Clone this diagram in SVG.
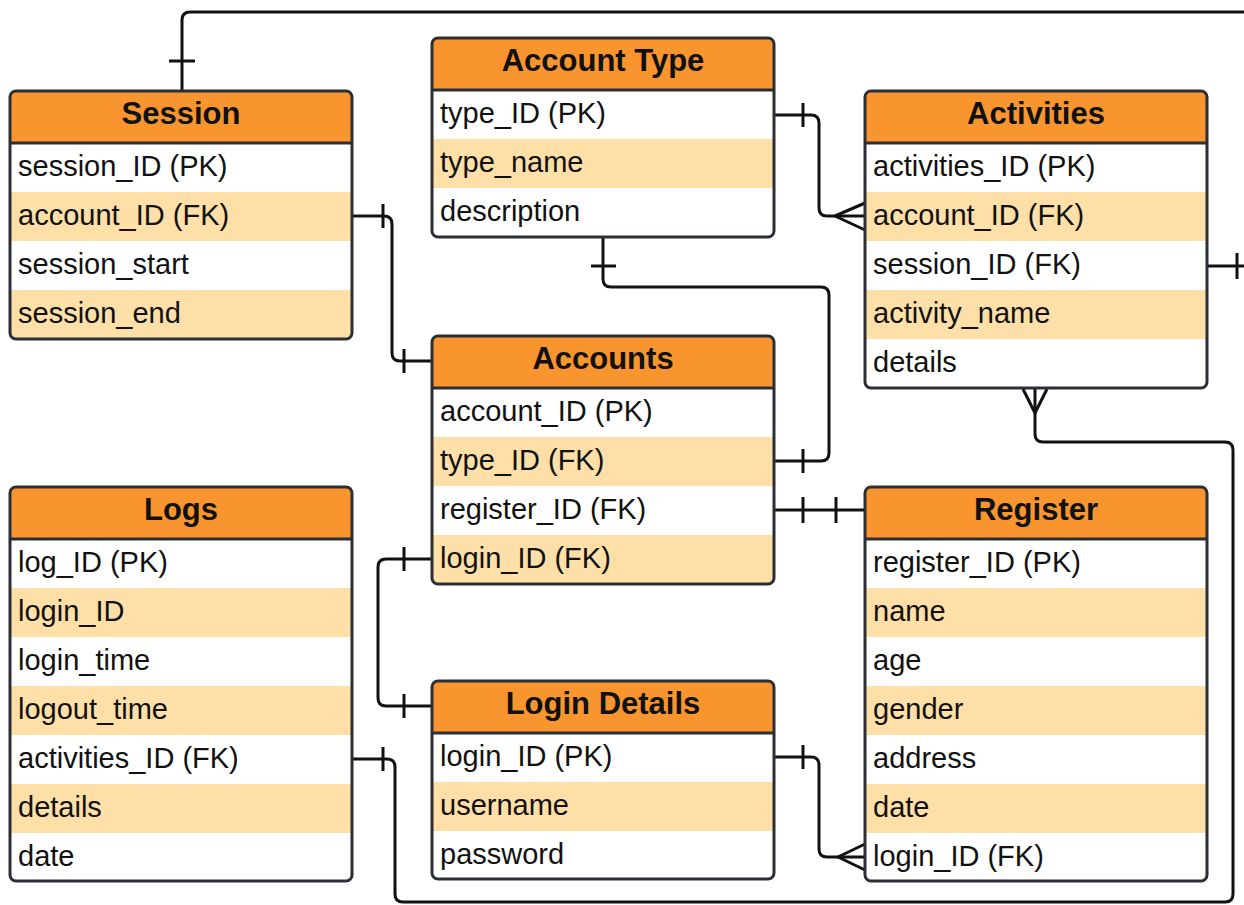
<svg xmlns="http://www.w3.org/2000/svg" width="1244" height="905" viewBox="0 0 1244 905">
<style>
.bg{fill:#ffffff}
.box{fill:none;stroke:#2b2e35;stroke-width:3}
.hdr{fill:#f9952f}
.sep{stroke:#2b2e35;stroke-width:3}
.hl{fill:#ffdfa8}
.title{font-family:"Liberation Sans",Arial,sans-serif;font-weight:bold;font-size:31px;fill:#111;text-anchor:middle}
.fld{font-family:"Liberation Sans",Arial,sans-serif;font-size:29px;fill:#111}
.con{fill:none;stroke:#111;stroke-width:3;stroke-linejoin:round;stroke-linecap:butt}
</style>
<rect width="1244" height="905" fill="#ffffff"/>

<g id="connectors" class="con">
  <path d="M182,91 V20 Q182,12 190,12 H1250"/>
  <path d="M169,61 H195"/>
  <path d="M1207,266 H1250"/>
  <path d="M1237,253 V279"/>
  <path d="M352,216 H384 Q392,216 392,224 V353 Q392,361 400,361 H432"/>
  <path d="M383,204 V228"/>
  <path d="M404,349 V373"/>
  <path d="M603,238 V279 Q603,287 611,287 H821 Q829,287 829,295 V453 Q829,461 821,461 H774"/>
  <path d="M591,266 H616"/>
  <path d="M803,449 V473"/>
  <path d="M774,115 H811 Q819,115 819,123 V208 Q819,216 827,216 H865"/>
  <path d="M803,103 V127"/>
  <path d="M865,203 L835,216 L865,230"/>
  <path d="M774,510 H865"/>
  <path d="M803,497 V523"/>
  <path d="M836,497 V523"/>
  <path d="M432,559 H386 Q378,559 378,567 V698 Q378,706 386,706 H432"/>
  <path d="M404,547 V571"/>
  <path d="M404,694 V718"/>
  <path d="M774,757 H811 Q819,757 819,765 V849 Q819,857 827,857 H865"/>
  <path d="M803,745 V769"/>
  <path d="M865,844 L838,857 L865,870"/>
  <path d="M352,759 H387 Q395,759 395,767 V894 Q395,902 403,902 H1225 Q1233,902 1233,894 V450 Q1233,442 1225,442 H1043 Q1035,442 1035,434 V388"/>
  <path d="M383,747 V771"/>
  <path d="M1023,389 L1035,413 L1047,389"/>
</g>

<g id="session" transform="translate(10,91)">
  <rect class="bg" x="0" y="0" width="342" height="248" rx="6"/>
  <path class="hdr" d="M0,52 V6 Q0,0 6,0 H336 Q342,0 342,6 V52 Z"/>
  <rect class="hl" x="0" y="101" width="342" height="49"/>
  <path class="hl" d="M0,199 H342 V242 Q342,248 336,248 H6 Q0,248 0,242 Z"/>
  <line class="sep" x1="0" y1="52" x2="342" y2="52"/>
  <rect class="box" x="0" y="0" width="342" height="248" rx="6"/>
  <text class="title" x="171" y="33">Session</text>
  <text class="fld" x="8" y="85">session_ID (PK)</text>
  <text class="fld" x="8" y="134">account_ID (FK)</text>
  <text class="fld" x="8" y="183">session_start</text>
  <text class="fld" x="8" y="232">session_end</text>
</g>

<g id="account-type" transform="translate(432,38)">
  <rect class="bg" x="0" y="0" width="342" height="199" rx="6"/>
  <path class="hdr" d="M0,52 V6 Q0,0 6,0 H336 Q342,0 342,6 V52 Z"/>
  <rect class="hl" x="0" y="101" width="342" height="49"/>
  <line class="sep" x1="0" y1="52" x2="342" y2="52"/>
  <rect class="box" x="0" y="0" width="342" height="199" rx="6"/>
  <text class="title" x="171" y="33">Account Type</text>
  <text class="fld" x="8" y="85">type_ID (PK)</text>
  <text class="fld" x="8" y="134">type_name</text>
  <text class="fld" x="8" y="183">description</text>
</g>

<g id="activities" transform="translate(865,91)">
  <rect class="bg" x="0" y="0" width="342" height="297" rx="6"/>
  <path class="hdr" d="M0,52 V6 Q0,0 6,0 H336 Q342,0 342,6 V52 Z"/>
  <rect class="hl" x="0" y="101" width="342" height="49"/>
  <rect class="hl" x="0" y="199" width="342" height="49"/>
  <line class="sep" x1="0" y1="52" x2="342" y2="52"/>
  <rect class="box" x="0" y="0" width="342" height="297" rx="6"/>
  <text class="title" x="171" y="33">Activities</text>
  <text class="fld" x="8" y="85">activities_ID (PK)</text>
  <text class="fld" x="8" y="134">account_ID (FK)</text>
  <text class="fld" x="8" y="183">session_ID (FK)</text>
  <text class="fld" x="8" y="232">activity_name</text>
  <text class="fld" x="8" y="281">details</text>
</g>

<g id="accounts" transform="translate(432,336)">
  <rect class="bg" x="0" y="0" width="342" height="248" rx="6"/>
  <path class="hdr" d="M0,52 V6 Q0,0 6,0 H336 Q342,0 342,6 V52 Z"/>
  <rect class="hl" x="0" y="101" width="342" height="49"/>
  <path class="hl" d="M0,199 H342 V242 Q342,248 336,248 H6 Q0,248 0,242 Z"/>
  <line class="sep" x1="0" y1="52" x2="342" y2="52"/>
  <rect class="box" x="0" y="0" width="342" height="248" rx="6"/>
  <text class="title" x="171" y="33">Accounts</text>
  <text class="fld" x="8" y="85">account_ID (PK)</text>
  <text class="fld" x="8" y="134">type_ID (FK)</text>
  <text class="fld" x="8" y="183">register_ID (FK)</text>
  <text class="fld" x="8" y="232">login_ID (FK)</text>
</g>

<g id="logs" transform="translate(10,487)">
  <rect class="bg" x="0" y="0" width="342" height="394" rx="6"/>
  <path class="hdr" d="M0,52 V6 Q0,0 6,0 H336 Q342,0 342,6 V52 Z"/>
  <rect class="hl" x="0" y="101" width="342" height="49"/>
  <rect class="hl" x="0" y="199" width="342" height="49"/>
  <rect class="hl" x="0" y="297" width="342" height="49"/>
  <line class="sep" x1="0" y1="52" x2="342" y2="52"/>
  <rect class="box" x="0" y="0" width="342" height="394" rx="6"/>
  <text class="title" x="171" y="33">Logs</text>
  <text class="fld" x="8" y="85">log_ID (PK)</text>
  <text class="fld" x="8" y="134">login_ID</text>
  <text class="fld" x="8" y="183">login_time</text>
  <text class="fld" x="8" y="232">logout_time</text>
  <text class="fld" x="8" y="281">activities_ID (FK)</text>
  <text class="fld" x="8" y="330">details</text>
  <text class="fld" x="8" y="379">date</text>
</g>

<g id="register" transform="translate(865,487)">
  <rect class="bg" x="0" y="0" width="342" height="394" rx="6"/>
  <path class="hdr" d="M0,52 V6 Q0,0 6,0 H336 Q342,0 342,6 V52 Z"/>
  <rect class="hl" x="0" y="101" width="342" height="49"/>
  <rect class="hl" x="0" y="199" width="342" height="49"/>
  <rect class="hl" x="0" y="297" width="342" height="49"/>
  <line class="sep" x1="0" y1="52" x2="342" y2="52"/>
  <rect class="box" x="0" y="0" width="342" height="394" rx="6"/>
  <text class="title" x="171" y="33">Register</text>
  <text class="fld" x="8" y="85">register_ID (PK)</text>
  <text class="fld" x="8" y="134">name</text>
  <text class="fld" x="8" y="183">age</text>
  <text class="fld" x="8" y="232">gender</text>
  <text class="fld" x="8" y="281">address</text>
  <text class="fld" x="8" y="330">date</text>
  <text class="fld" x="8" y="379">login_ID (FK)</text>
</g>

<g id="login-details" transform="translate(432,681)">
  <rect class="bg" x="0" y="0" width="342" height="198" rx="6"/>
  <path class="hdr" d="M0,52 V6 Q0,0 6,0 H336 Q342,0 342,6 V52 Z"/>
  <rect class="hl" x="0" y="101" width="342" height="49"/>
  <line class="sep" x1="0" y1="52" x2="342" y2="52"/>
  <rect class="box" x="0" y="0" width="342" height="198" rx="6"/>
  <text class="title" x="171" y="33">Login Details</text>
  <text class="fld" x="8" y="85">login_ID (PK)</text>
  <text class="fld" x="8" y="134">username</text>
  <text class="fld" x="8" y="183">password</text>
</g>
</svg>
